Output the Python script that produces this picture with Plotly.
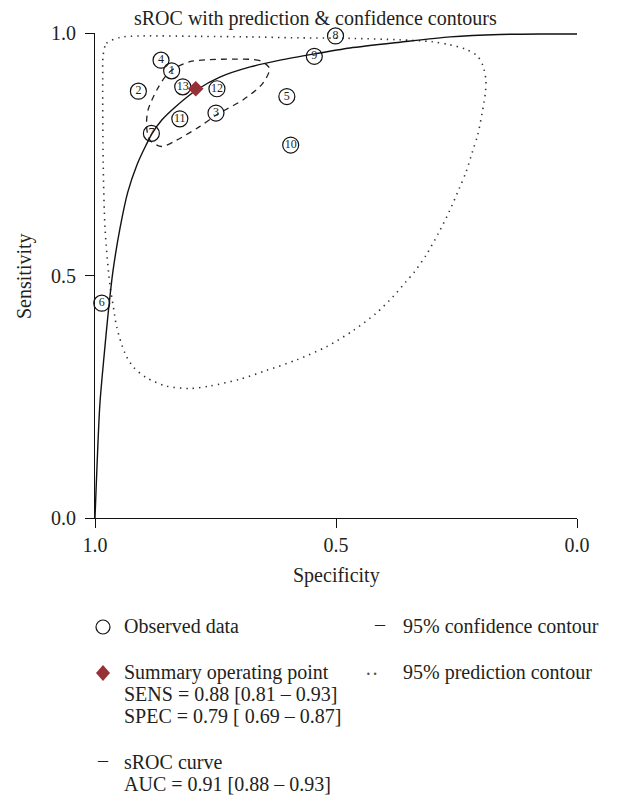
import plotly.graph_objects as go

# ---- data ----
study_ids = ['1', '2', '3', '4', '5', '6', '7', '8', '9', '10', '11', '12', '13']
study_spec = [0.841, 0.910, 0.749, 0.863, 0.602, 0.986, 0.883, 0.501, 0.545, 0.594, 0.824, 0.747, 0.818]
study_sens = [0.922, 0.880, 0.835, 0.944, 0.869, 0.443, 0.793, 0.994, 0.952, 0.769, 0.823, 0.885, 0.889]

summary_spec = [0.791]
summary_sens = [0.885]

curve_spec = [1.000, 0.990, 0.981, 0.973, 0.963, 0.948, 0.932, 0.913, 0.894, 0.882, 0.861,
              0.834, 0.790, 0.741, 0.678, 0.616, 0.544, 0.471, 0.367, 0.263, 0.160, 0.077, 0.0]
curve_sens = [0.0, 0.233, 0.336, 0.419, 0.507, 0.598, 0.672, 0.728, 0.769, 0.792, 0.821,
              0.847, 0.882, 0.909, 0.930, 0.944, 0.957, 0.969, 0.981, 0.992, 0.997, 0.998, 0.998]

conf_spec = [0.638, 0.658, 0.714, 0.762, 0.803, 0.834, 0.852, 0.872, 0.890, 0.893, 0.886,
             0.862, 0.831, 0.783, 0.745, 0.693, 0.652, 0.638]
conf_sens = [0.927, 0.943, 0.946, 0.945, 0.941, 0.928, 0.913, 0.882, 0.841, 0.807, 0.779,
             0.766, 0.779, 0.807, 0.833, 0.862, 0.896, 0.927]

pred_spec = [0.983, 0.976, 0.948, 0.900, 0.783, 0.679, 0.576, 0.472, 0.369, 0.300, 0.265,
             0.232, 0.207, 0.195, 0.189, 0.190, 0.197, 0.206, 0.217, 0.230, 0.244, 0.265,
             0.286, 0.313, 0.337, 0.355, 0.382, 0.417, 0.465, 0.520, 0.582, 0.645, 0.700,
             0.762, 0.803, 0.852, 0.893, 0.921, 0.938, 0.955, 0.962, 0.969, 0.979, 0.983,
             0.984, 0.983]
pred_sens = [0.955, 0.979, 0.991, 0.994, 0.993, 0.992, 0.990, 0.989, 0.986, 0.982, 0.976,
             0.967, 0.953, 0.932, 0.903, 0.878, 0.834, 0.790, 0.755, 0.714, 0.680, 0.632,
             0.590, 0.542, 0.508, 0.487, 0.456, 0.422, 0.386, 0.353, 0.326, 0.304, 0.286,
             0.272, 0.267, 0.272, 0.289, 0.312, 0.340, 0.394, 0.436, 0.480, 0.594, 0.732,
             0.903, 0.955]

tick_vals = [0.0, 0.5, 1.0]
tick_text = ['0.0', '0.5', '1.0']

title_text = 'sROC with prediction & confidence contours'
x_title = 'Specificity'
y_title = 'Sensitivity'
legend_left = ['Observed data', 'Summary operating point', 'SENS = 0.88 [0.81 – 0.93]',
               'SPEC = 0.79 [ 0.69 – 0.87]', 'sROC curve', 'AUC = 0.91 [0.88 – 0.93]']
legend_right = ['95% confidence contour', '95% prediction contour']

# ---- styling ----
FONT = 'Liberation Serif'
TXT = '#231f20'
RED = '#963237'
OFF = 8                      # page body margin
W, H = 621 - OFF, 797 - OFF  # figure size
# plot-area edges in page pixels
L, R, T, B = 95, 577, 33, 518


def px(xp):
    return (xp - L) / (R - L)


def py(yp):
    return (B - yp) / (B - T)


fig = go.Figure()

fig.add_trace(go.Scatter(x=pred_spec, y=pred_sens, mode='lines',
                         line=dict(color='#333333', width=1.6, dash='1.4px,5px', shape='spline',
                                   smoothing=0.8),
                         showlegend=False, hoverinfo='skip'))
fig.add_trace(go.Scatter(x=conf_spec, y=conf_sens, mode='lines',
                         line=dict(color='#222222', width=1.3, dash='6px,5px', shape='spline',
                                   smoothing=0.8),
                         showlegend=False, hoverinfo='skip'))
fig.add_trace(go.Scatter(x=curve_spec, y=curve_sens, mode='lines',
                         line=dict(color='#111111', width=1.4, shape='spline', smoothing=0.7),
                         showlegend=False, hoverinfo='skip'))
fig.add_trace(go.Scatter(x=study_spec, y=study_sens, mode='markers+text',
                         text=study_ids, textposition='middle center',
                         textfont=dict(family=FONT, size=12, color=TXT),
                         marker=dict(symbol='circle-open', size=16, color='#111111',
                                     line=dict(width=1.2, color='#111111')),
                         cliponaxis=False, showlegend=False))
fig.add_trace(go.Scatter(x=summary_spec, y=summary_sens, mode='markers',
                         marker=dict(symbol='diamond', size=12, color=RED),
                         cliponaxis=False, showlegend=False))

axis_common = dict(showgrid=False, zeroline=False, showline=True, linecolor='#111111',
                   linewidth=1.2, ticks='outside', ticklen=9, tickwidth=1.2, tickcolor='#111111',
                   tickvals=tick_vals, ticktext=tick_text,
                   tickfont=dict(family=FONT, size=20, color=TXT))

fig.update_xaxes(range=[1.0, 0.0], **axis_common)
fig.update_yaxes(range=[0.0, 1.0], ticklabelstandoff=5, **axis_common)

ann = []
ann.append(dict(text=title_text, x=px(315), y=py(18), xref='paper', yref='paper',
                xanchor='center', yanchor='middle', showarrow=False,
                font=dict(family=FONT, size=20, color=TXT)))
ann.append(dict(text=x_title, x=px(336), y=py(575), xref='paper', yref='paper',
                xanchor='center', yanchor='middle', showarrow=False,
                font=dict(family=FONT, size=20, color=TXT)))
ann.append(dict(text=y_title, x=px(24), y=py(276), xref='paper', yref='paper',
                xanchor='center', yanchor='middle', showarrow=False, textangle=-90,
                font=dict(family=FONT, size=20, color=TXT)))

left_y = [626, 672, 694, 716, 762, 784]
for txt, yy in zip(legend_left, left_y):
    ann.append(dict(text=txt, x=px(122), y=py(yy), xref='paper', yref='paper',
                    xanchor='left', yanchor='middle', showarrow=False,
                    font=dict(family=FONT, size=20, color=TXT)))
for txt, yy in zip(legend_right, [626, 672]):
    ann.append(dict(text=txt, x=px(401), y=py(yy), xref='paper', yref='paper',
                    xanchor='left', yanchor='middle', showarrow=False,
                    font=dict(family=FONT, size=20, color=TXT)))
# legend symbol glyphs
ann.append(dict(text='–', x=px(380), y=py(624), xref='paper', yref='paper',
                xanchor='center', yanchor='middle', showarrow=False,
                font=dict(family=FONT, size=20, color=TXT)))
ann.append(dict(text='··', x=px(371), y=py(674), xref='paper', yref='paper',
                xanchor='center', yanchor='middle', showarrow=False,
                font=dict(family=FONT, size=20, color='#555555')))
ann.append(dict(text='–', x=px(103), y=py(760), xref='paper', yref='paper',
                xanchor='center', yanchor='middle', showarrow=False,
                font=dict(family=FONT, size=20, color=TXT)))

shapes = [
    dict(type='circle', xref='paper', yref='paper', xsizemode='pixel', ysizemode='pixel',
         xanchor=px(103), yanchor=py(627), x0=-7, x1=7, y0=-7, y1=7,
         line=dict(color='#111111', width=1.2)),
    dict(type='path', xref='paper', yref='paper', xsizemode='pixel', ysizemode='pixel',
         xanchor=px(103), yanchor=py(673), path='M 0 8 L 7 0 L 0 -8 L -7 0 Z',
         fillcolor=RED, line=dict(width=0)),
]

fig.update_layout(width=W, height=H, autosize=False,
                  margin=dict(l=L - OFF, r=W - (R - OFF), t=T - OFF, b=H - (B - OFF), pad=0),
                  plot_bgcolor='white', paper_bgcolor='white',
                  annotations=ann, shapes=shapes, showlegend=False)

fig.write_html('out.html')
